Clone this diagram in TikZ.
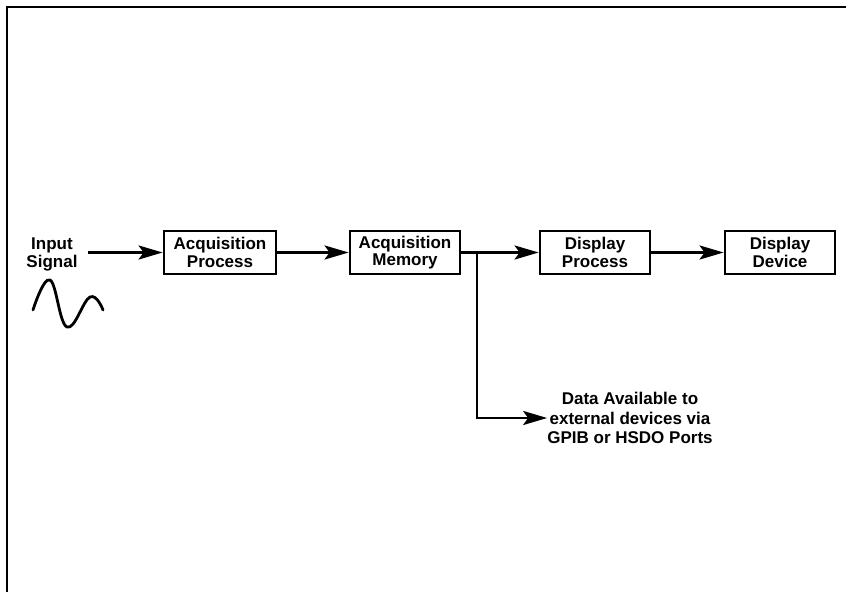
\documentclass[tikz,border=0pt]{standalone}
\usepackage{fontspec}
\setmainfont{Liberation Sans}
\usetikzlibrary{arrows.meta}
\begin{document}
\begin{tikzpicture}[x=1pt,y=1pt,
  blk/.style={draw, line width=2.8pt, minimum width=110pt, minimum height=43pt, inner sep=0pt, align=center, font=\bfseries\fontsize{17}{17.5}\selectfont},
  lbl/.style={align=center, inner sep=0pt, font=\bfseries\fontsize{17}{19.5}\selectfont},
  conn/.style={line width=2.8pt, -{Stealth[length=24pt,width=14pt,inset=5pt]}},
  frame/.style={line width=2.8pt}]
\useasboundingbox (0,0) rectangle (846,592);
\coordinate (ftr) at (846,585);
\coordinate (ftl) at (7,585);
\coordinate (fbl) at (7,0);
\draw[frame] (ftr) -- (ftl) -- (fbl);
\node[lbl, font=\bfseries\fontsize{17}{18}\selectfont] (in) at (52,338) {Input\\Signal};
\node[blk, minimum width=112pt] (b1) at (220,339.5) {Acquisition\\Process};
\node[blk] (b2) at (405,339.5) {Acquisition\\Memory};
\node[blk] (b3) at (595,339.5) {Display\\Process};
\node[blk] (b4) at (780,339.5) {Display\\Device};
\coordinate (br) at (477,339.5);
\coordinate (bd) at (477,174);
\coordinate (ins) at (88,339.5);
\node[lbl] (data) at (630,174) {Data Available to\\external devices via\\GPIB or HSDO Ports};
\draw[conn] (ins) -- (b1.west);
\draw[conn] (b1) -- (b2);
\draw[conn] (b2) -- (b3);
\draw[conn] (b3) -- (b4);
\draw[conn] (br) -- (bd) -- (data.west);
\draw[line width=2.8pt, line cap=round] plot[smooth, tension=0.7] coordinates {(33,282) (50,312) (67,265) (90,295) (103,282)};
\end{tikzpicture}
\end{document}
